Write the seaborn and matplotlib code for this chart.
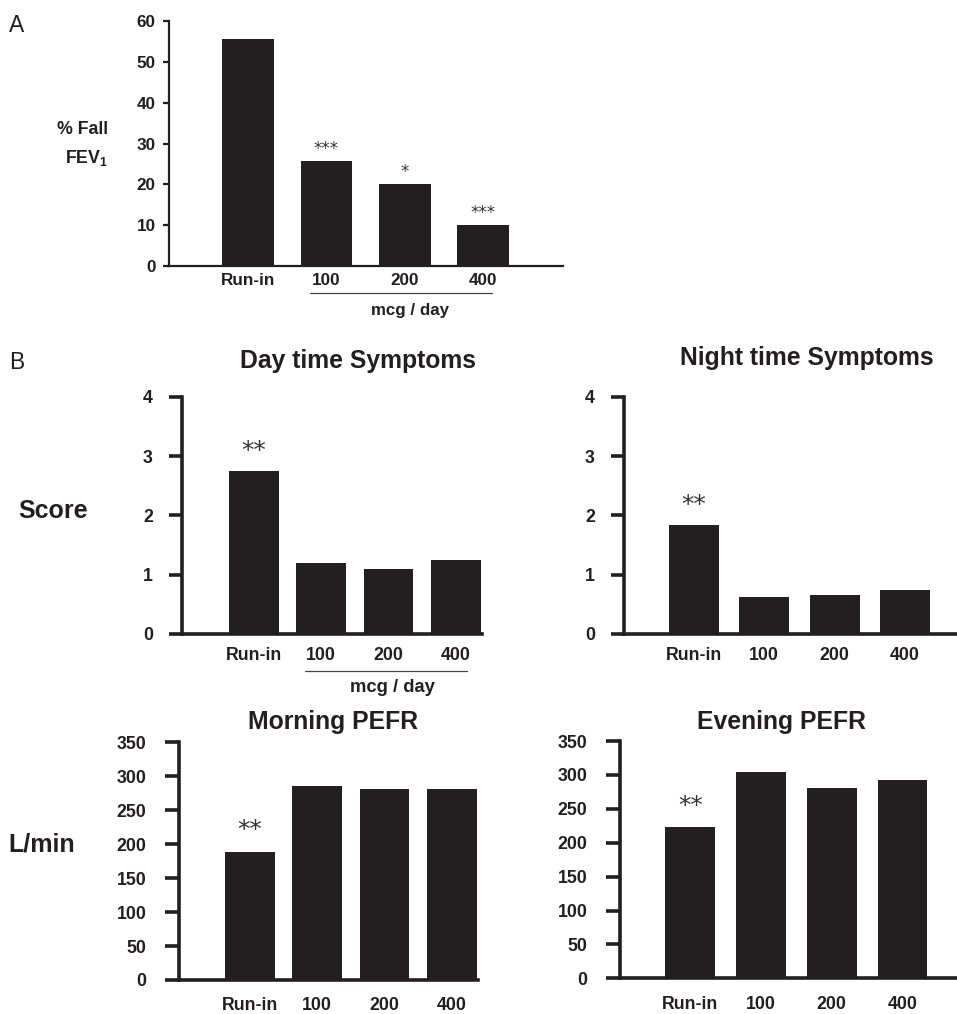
import matplotlib
matplotlib.use("Agg")
import matplotlib.pyplot as plt
from matplotlib.lines import Line2D
import seaborn as sns

# ---- data ----
doses = ["Run-in", "100", "200", "400"]
fev1_fall = [55.5, 25.7, 20.2, 10.0]
fev1_sig = ["", "***", "*", "***"]
day_score = [2.75, 1.20, 1.09, 1.24]
night_score = [1.83, 0.63, 0.65, 0.75]
morning_pefr = [188, 285, 281, 281]
evening_pefr = [223, 305, 280, 293]
symptom_sig = ["**", "", "", ""]
score_ticks = [0, 1, 2, 3, 4]
fev1_ticks = [0, 10, 20, 30, 40, 50, 60]
pefr_ticks = [0, 50, 100, 150, 200, 250, 300, 350]

sns.set_style("white")
plt.rcParams["font.family"] = ["Liberation Sans", "DejaVu Sans"]
plt.rcParams["mathtext.fontset"] = "custom"
plt.rcParams["mathtext.rm"] = "Liberation Sans"
plt.rcParams["mathtext.bf"] = "Liberation Sans:bold"

W, H = 957, 1014
fig = plt.figure(figsize=(W / 100, H / 100), dpi=100)
BAR = "#231f20"
INK = "#231f20"


def add_ax(left, right, top, bottom):
    return fig.add_axes([left / W, 1 - bottom / H, (right - left) / W, (bottom - top) / H])


def fx(x):
    return x / W


def fy(y):
    return 1 - y / H


def panel(ax, values, ticks, xlim, width, lw, ticklen, ypad, xpad, fs, sig, sigsize, sigoff):
    sns.barplot(x=doses, y=values, order=doses, ax=ax, color=BAR, saturation=1,
                width=width, errorbar=None, edgecolor="none", linewidth=0)
    ax.set_xlim(*xlim)
    ax.set_ylim(ticks[0], ticks[-1])
    ax.set_yticks(ticks)
    ax.set_yticklabels([str(t) for t in ticks])
    ax.set_xlabel("")
    ax.set_ylabel("")
    for s in ["top", "right"]:
        ax.spines[s].set_visible(False)
    for s in ["left", "bottom"]:
        ax.spines[s].set_linewidth(lw)
        ax.spines[s].set_color(INK)
    ax.tick_params(axis="y", left=True, direction="out", length=ticklen, width=lw,
                   color=INK, pad=ypad, labelsize=fs, labelcolor=INK)
    ax.tick_params(axis="x", bottom=False, length=0, pad=xpad, labelsize=fs, labelcolor=INK)
    for lab in ax.get_yticklabels() + ax.get_xticklabels():
        lab.set_fontweight("bold")
    for i, (v, s) in enumerate(zip(values, sig)):
        if s:
            ax.annotate(s, xy=(i, v), xytext=(0, sigoff), textcoords="offset points",
                        ha="center", va="center", fontsize=sigsize, color="#333333",
                        family="DejaVu Sans")
    ax.patch.set_alpha(0)


# ---- Panel A ----
axA = add_ax(169, 563, 21, 266)
panel(axA, fev1_fall, fev1_ticks, (-1.01, 4.02), 0.66, 1.6, 4, 5.5, 5, 12.3,
      fev1_sig, 12, 8.5)

# ---- Panel B ----
axD = add_ax(182, 482, 396.7, 634)
panel(axD, day_score, score_ticks, (-1.064, 3.387), 0.74, 2.6, 9.5, 11.5, 9.5, 12.8,
      symptom_sig, 18, 14.5)
axN = add_ax(624, 957, 396.7, 634)
panel(axN, night_score, score_ticks, (-0.995, 3.74), 0.71, 2.6, 9.5, 11.5, 9.5, 12.8,
      symptom_sig, 18, 14.5)
axM = add_ax(179, 478, 742.3, 980)
panel(axM, morning_pefr, pefr_ticks, (-1.054, 3.39), 0.74, 2.6, 10, 13.5, 12.5, 12.8,
      symptom_sig, 18, 16)
axE = add_ax(620, 957, 741, 978.3)
panel(axE, evening_pefr, pefr_ticks, (-0.993, 3.77), 0.70, 2.6, 10, 13.5, 12.5, 12.8,
      symptom_sig, 18, 15)

# ---- panel letters ----
fig.text(fx(9), fy(25), "A", fontsize=16.5, ha="left", va="center", color=INK)
fig.text(fx(9), fy(362.7), "B", fontsize=16.5, ha="left", va="center", color=INK)

# ---- axis labels ----
fig.text(fx(108), fy(130), "% Fall", fontsize=12.8, fontweight="bold", ha="right",
         va="center", color=INK)
fig.text(fx(108), fy(158), r"$\mathbf{FEV_1}$", fontsize=12.8, ha="right",
         va="center", color=INK)
fig.text(fx(18), fy(510.7), "Score", fontsize=18, fontweight="bold", ha="left",
         va="center", color=INK)
fig.text(fx(8), fy(845), "L/min", fontsize=18, fontweight="bold", ha="left",
         va="center", color=INK)

# ---- titles ----
titles = [("Day time Symptoms", 357.5, 360.7), ("Night time Symptoms", 806.5, 358),
          ("Morning PEFR", 333.5, 721.7), ("Evening PEFR", 781.5, 721.7)]
for txt, x, y in titles:
    fig.text(fx(x), fy(y), txt, fontsize=17.8, fontweight="bold", ha="center",
             va="center", color=INK)

# ---- dose brackets ----
for x0, x1, y, tx, ty, fs in [(310, 492, 293, 410, 310, 12.2),
                              (305, 467, 671, 392, 688, 13.2)]:
    fig.add_artist(Line2D([fx(x0), fx(x1)], [fy(y), fy(y)], color="#444444", lw=0.9))
    fig.text(fx(tx), fy(ty), "mcg / day", fontsize=fs, fontweight="bold",
             ha="center", va="center", color=INK)

fig.savefig("out.png", dpi=100, facecolor="white")
